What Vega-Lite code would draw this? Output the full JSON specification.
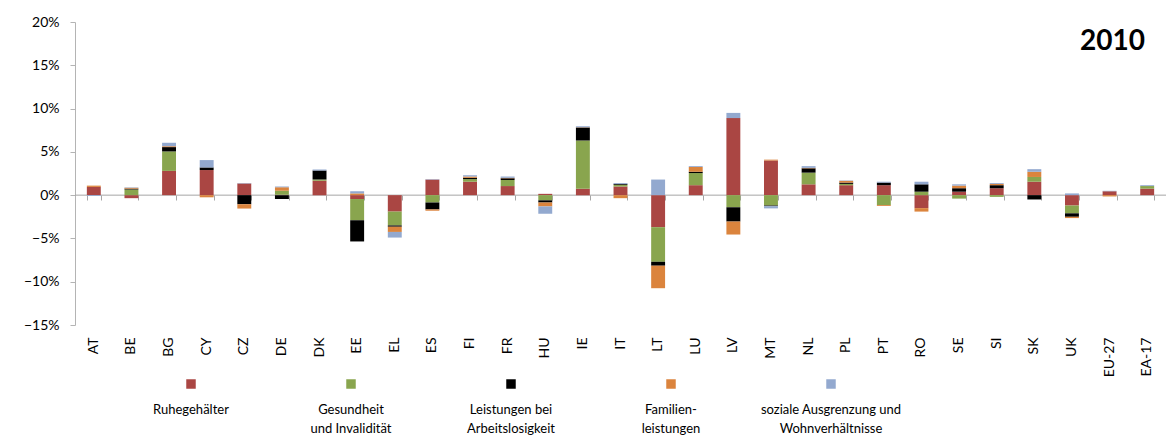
{
  "$schema": "https://vega.github.io/schema/vega-lite/v6.json",
  "background": "white",
  "padding": {"left": 23, "top": 15, "right": 5, "bottom": 0},
  "config": {"font": "Lato", "view": {"stroke": null}, "concat": {"spacing": 2}},
  "datasets": {
    "bars": [
      {"c":"AT","s":"Ruhegehälter","v":0.0095},{"c":"AT","s":"Familien","v":0.0015},{"c":"AT","s":"Soziales","v":-0.001},
      {"c":"BE","s":"Ruhegehälter","v":-0.0035},{"c":"BE","s":"Gesundheit","v":0.0065},{"c":"BE","s":"Arbeitslosigkeit","v":0.001},{"c":"BE","s":"Familien","v":0.001},{"c":"BE","s":"Soziales","v":0.0005},
      {"c":"BG","s":"Ruhegehälter","v":0.028},{"c":"BG","s":"Gesundheit","v":0.0225},{"c":"BG","s":"Arbeitslosigkeit","v":0.005},{"c":"BG","s":"Familien","v":0.001},{"c":"BG","s":"Soziales","v":0.004},
      {"c":"CY","s":"Ruhegehälter","v":0.029},{"c":"CY","s":"Arbeitslosigkeit","v":0.003},{"c":"CY","s":"Familien","v":-0.0025},{"c":"CY","s":"Soziales","v":0.0085},
      {"c":"CZ","s":"Ruhegehälter","v":0.0135},{"c":"CZ","s":"Arbeitslosigkeit","v":-0.0105},{"c":"CZ","s":"Familien","v":-0.005},{"c":"CZ","s":"Soziales","v":0.0005},
      {"c":"DE","s":"Ruhegehälter","v":0.0005},{"c":"DE","s":"Gesundheit","v":0.0045},{"c":"DE","s":"Arbeitslosigkeit","v":-0.0045},{"c":"DE","s":"Familien","v":0.004},{"c":"DE","s":"Soziales","v":0.001},
      {"c":"DK","s":"Ruhegehälter","v":0.0165},{"c":"DK","s":"Gesundheit","v":0.0015},{"c":"DK","s":"Arbeitslosigkeit","v":0.0105},{"c":"DK","s":"Soziales","v":0.001},
      {"c":"EE","s":"Ruhegehälter","v":-0.0045},{"c":"EE","s":"Gesundheit","v":-0.0245},{"c":"EE","s":"Arbeitslosigkeit","v":-0.0245},{"c":"EE","s":"Familien","v":0.002},{"c":"EE","s":"Soziales","v":0.0025},
      {"c":"EL","s":"Ruhegehälter","v":-0.019},{"c":"EL","s":"Gesundheit","v":-0.016},{"c":"EL","s":"Arbeitslosigkeit","v":-0.0015},{"c":"EL","s":"Familien","v":-0.006},{"c":"EL","s":"Soziales","v":-0.0065},
      {"c":"ES","s":"Ruhegehälter","v":0.018},{"c":"ES","s":"Gesundheit","v":-0.0085},{"c":"ES","s":"Arbeitslosigkeit","v":-0.008},{"c":"ES","s":"Familien","v":-0.0015},{"c":"ES","s":"Soziales","v":0.0005},
      {"c":"FI","s":"Ruhegehälter","v":0.0155},{"c":"FI","s":"Gesundheit","v":0.003},{"c":"FI","s":"Arbeitslosigkeit","v":0.0015},{"c":"FI","s":"Familien","v":0.0015},{"c":"FI","s":"Soziales","v":0.0015},
      {"c":"FR","s":"Ruhegehälter","v":0.0105},{"c":"FR","s":"Gesundheit","v":0.007},{"c":"FR","s":"Arbeitslosigkeit","v":0.002},{"c":"FR","s":"Familien","v":0.0005},{"c":"FR","s":"Soziales","v":0.0015},
      {"c":"HU","s":"Ruhegehälter","v":0.0015},{"c":"HU","s":"Gesundheit","v":-0.006},{"c":"HU","s":"Arbeitslosigkeit","v":-0.0025},{"c":"HU","s":"Familien","v":-0.0045},{"c":"HU","s":"Soziales","v":-0.0085},
      {"c":"IE","s":"Ruhegehälter","v":0.0075},{"c":"IE","s":"Gesundheit","v":0.0555},{"c":"IE","s":"Arbeitslosigkeit","v":0.015},{"c":"IE","s":"Familien","v":0.0005},{"c":"IE","s":"Soziales","v":0.001},
      {"c":"IT","s":"Ruhegehälter","v":0.01},{"c":"IT","s":"Gesundheit","v":0.002},{"c":"IT","s":"Arbeitslosigkeit","v":0.001},{"c":"IT","s":"Familien","v":-0.0035},{"c":"IT","s":"Soziales","v":0.001},
      {"c":"LT","s":"Ruhegehälter","v":-0.037},{"c":"LT","s":"Gesundheit","v":-0.04},{"c":"LT","s":"Arbeitslosigkeit","v":-0.0045},{"c":"LT","s":"Familien","v":-0.026},{"c":"LT","s":"Soziales","v":0.018},
      {"c":"LU","s":"Ruhegehälter","v":0.0115},{"c":"LU","s":"Gesundheit","v":0.014},{"c":"LU","s":"Arbeitslosigkeit","v":0.0015},{"c":"LU","s":"Familien","v":0.0055},{"c":"LU","s":"Soziales","v":0.001},
      {"c":"LV","s":"Ruhegehälter","v":0.089},{"c":"LV","s":"Gesundheit","v":-0.014},{"c":"LV","s":"Arbeitslosigkeit","v":-0.0165},{"c":"LV","s":"Familien","v":-0.015},{"c":"LV","s":"Soziales","v":0.006},
      {"c":"MT","s":"Ruhegehälter","v":0.04},{"c":"MT","s":"Gesundheit","v":-0.012},{"c":"MT","s":"Arbeitslosigkeit","v":-0.0008},{"c":"MT","s":"Familien","v":0.001},{"c":"MT","s":"Soziales","v":-0.0025},
      {"c":"NL","s":"Ruhegehälter","v":0.0125},{"c":"NL","s":"Gesundheit","v":0.0135},{"c":"NL","s":"Arbeitslosigkeit","v":0.005},{"c":"NL","s":"Familien","v":0.0005},{"c":"NL","s":"Soziales","v":0.002},
      {"c":"PL","s":"Ruhegehälter","v":0.0115},{"c":"PL","s":"Gesundheit","v":0.0015},{"c":"PL","s":"Arbeitslosigkeit","v":0.0015},{"c":"PL","s":"Familien","v":0.002},{"c":"PL","s":"Soziales","v":0.0005},
      {"c":"PT","s":"Ruhegehälter","v":0.0115},{"c":"PT","s":"Gesundheit","v":-0.0115},{"c":"PT","s":"Arbeitslosigkeit","v":0.003},{"c":"PT","s":"Familien","v":-0.001},{"c":"PT","s":"Soziales","v":0.001},
      {"c":"RO","s":"Ruhegehälter","v":-0.015},{"c":"RO","s":"Gesundheit","v":0.004},{"c":"RO","s":"Arbeitslosigkeit","v":0.0085},{"c":"RO","s":"Familien","v":-0.004},{"c":"RO","s":"Soziales","v":0.003},
      {"c":"SE","s":"Ruhegehälter","v":0.004},{"c":"SE","s":"Gesundheit","v":-0.004},{"c":"SE","s":"Arbeitslosigkeit","v":0.004},{"c":"SE","s":"Familien","v":0.003},{"c":"SE","s":"Soziales","v":0.0015},
      {"c":"SI","s":"Ruhegehälter","v":0.008},{"c":"SI","s":"Gesundheit","v":-0.002},{"c":"SI","s":"Arbeitslosigkeit","v":0.0035},{"c":"SI","s":"Familien","v":0.0015},{"c":"SI","s":"Soziales","v":0.001},
      {"c":"SK","s":"Ruhegehälter","v":0.0155},{"c":"SK","s":"Gesundheit","v":0.0055},{"c":"SK","s":"Arbeitslosigkeit","v":-0.005},{"c":"SK","s":"Familien","v":0.006},{"c":"SK","s":"Soziales","v":0.003},
      {"c":"UK","s":"Ruhegehälter","v":-0.012},{"c":"UK","s":"Gesundheit","v":-0.009},{"c":"UK","s":"Arbeitslosigkeit","v":-0.004},{"c":"UK","s":"Familien","v":-0.0015},{"c":"UK","s":"Soziales","v":0.002},
      {"c":"EU-27","s":"Ruhegehälter","v":0.0045},{"c":"EU-27","s":"Familien","v":-0.0015},{"c":"EU-27","s":"Soziales","v":0.0005},
      {"c":"EA-17","s":"Ruhegehälter","v":0.0075},{"c":"EA-17","s":"Gesundheit","v":0.003},{"c":"EA-17","s":"Soziales","v":0.001}
    ],
    "legend": [
      {"s":"Ruhegehälter","o":1,"label":"Ruhegehälter"},
      {"s":"Gesundheit","o":2,"label":"Gesundheit\nund Invalidität"},
      {"s":"Arbeitslosigkeit","o":3,"label":"Leistungen bei\nArbeitslosigkeit"},
      {"s":"Familien","o":4,"label":"Familien-\nleistungen"},
      {"s":"Soziales","o":5,"label":"soziale Ausgrenzung und\nWohnverhältnisse"}
    ]
  },
  "vconcat": [
    {
      "width": 1091,
      "height": 303,
      "data": {"name": "bars"},
      "title": {"text": "2010", "anchor": "end", "orient": "top", "frame": "group", "fontSize": 28, "fontWeight": "bold", "color": "#000000", "offset": -41, "dx": -21},
      "layer": [
        {
          "data": {"values": [{}]},
          "mark": {"type": "rule", "color": "#a6a6a6", "strokeWidth": 1},
          "encoding": {"y": {"datum": 0, "type": "quantitative"}}
        },
        {
          "transform": [{"lookup": "s", "from": {"data": {"name": "legend"}, "key": "s", "fields": ["o"]}}],
          "mark": {"type": "bar"},
          "encoding": {
            "x": {"field": "c", "type": "nominal", "sort": null, "title": null,
                  "scale": {"paddingInner": 0.63, "paddingOuter": 0.315},
                  "axis": {"labelAngle": 270, "domain": false, "ticks": false, "labelFontSize": 14, "labelPadding": 12, "labelColor": "#000000", "grid": false}},
            "y": {"field": "v", "type": "quantitative", "stack": "zero", "title": null,
                  "scale": {"domain": [-0.15, 0.2], "nice": false},
                  "axis": {"format": ".0%", "values": [-0.15, -0.1, -0.05, 0, 0.05, 0.1, 0.15, 0.2], "gridColor": "#c0c0c0", "domainColor": "#b4b4b4", "tickColor": "#b4b4b4", "tickSize": 5, "labelPadding": 11, "labelFontSize": 14, "labelColor": "#000000"}},
            "order": {"field": "o", "type": "quantitative", "sort": "ascending"},
            "color": {"field": "s", "type": "nominal",
                      "scale": {"domain": ["Ruhegehälter", "Gesundheit", "Arbeitslosigkeit", "Familien", "Soziales"], "range": ["#AA4643", "#89A54E", "#000000", "#DB843D", "#93A9CF"]},
                      "legend": null}
          }
        },
        {
          "mark": {"type": "rule", "opacity": 0},
          "encoding": {
            "x": {"field": "c", "type": "nominal", "sort": null, "title": null,
                  "axis": {"orient": "bottom", "offset": -130, "labels": false, "domain": false, "ticks": true, "tickBand": "extent", "tickSize": 5, "tickColor": "#a6a6a6", "grid": false}}
          }
        }
      ],
      "resolve": {"axis": {"x": "independent"}}
    },
    {
      "width": 872,
      "height": 10,
      "data": {"name": "legend"},
      "layer": [
        {
          "mark": {"type": "point", "shape": "square", "filled": true, "size": 90, "opacity": 1},
          "encoding": {
            "x": {"field": "s", "type": "nominal", "sort": null, "scale": {"type": "point", "padding": 0.725}, "axis": null},
            "color": {"field": "s", "type": "nominal",
                      "scale": {"domain": ["Ruhegehälter", "Gesundheit", "Arbeitslosigkeit", "Familien", "Soziales"], "range": ["#AA4643", "#89A54E", "#000000", "#DB843D", "#93A9CF"]},
                      "legend": null}
          }
        },
        {
          "mark": {"type": "text", "baseline": "top", "dy": 20, "fontSize": 13, "lineBreak": "\n", "lineHeight": 19, "color": "#000000"},
          "encoding": {
            "x": {"field": "s", "type": "nominal", "sort": null, "scale": {"type": "point", "padding": 0.725}, "axis": null},
            "text": {"field": "label"}
          }
        }
      ]
    }
  ]
}
